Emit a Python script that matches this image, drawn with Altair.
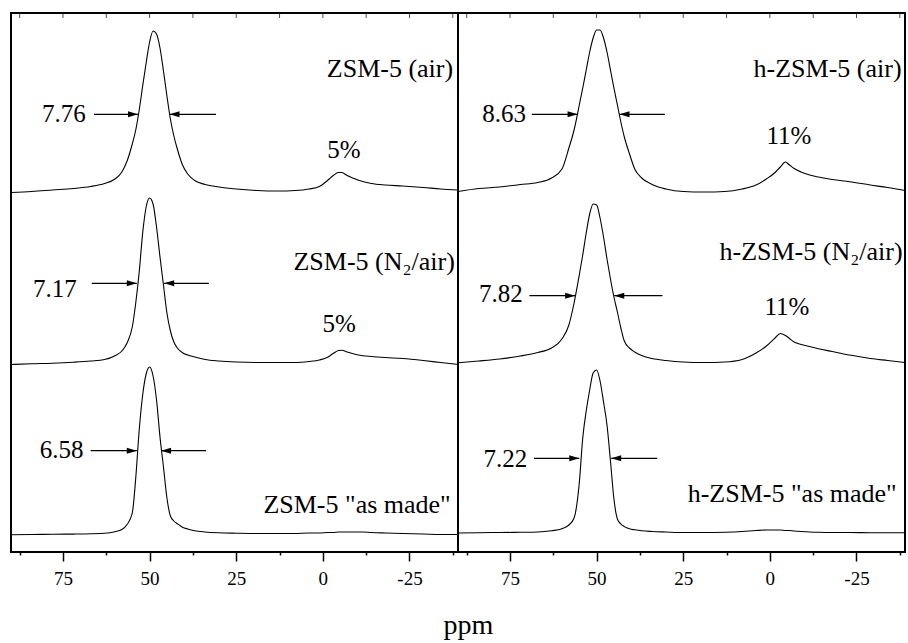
import altair as alt
import pandas as pd

# ---------------- data ----------------
ppm = [90, 84, 78, 72, 67, 63, 60, 58, 56.5, 55, 54, 53, 52, 51, 50, 49, 48, 47, 46, 45,
       44, 43, 42, 40.5, 39, 37, 34, 30, 25, 19, 13, 8, 4, 1, -1.5, -3, -4.5, -5.5, -7, -9,
       -11.5, -14, -18, -23, -29, -34, -39]

zsm5_air = [0.5, 1.5, 3, 4.5, 6.5, 9.5, 14, 21, 32, 49, 63, 83, 107, 130, 151, 162, 159, 145, 122, 97,
            74, 57, 44, 28, 19, 12.5, 8.5, 6, 4, 2.5, 2, 2.5, 4, 6.5, 13, 17.5, 20.5, 20.5, 17.5, 14.5,
            11.5, 9.5, 8, 7, 5.5, 4, 3]
zsm5_n2air = [0.5, 1.2, 1.8, 2.8, 4, 5.5, 9.3, 14, 22, 38, 62, 93, 132, 158, 167, 161, 138, 108, 80, 52,
              34, 23, 17, 12.3, 10, 8, 5.5, 4, 3, 2.5, 2.5, 2.5, 3.5, 5, 8, 11.5, 14.5, 14.8, 13, 11,
              9.3, 8.5, 7.5, 6.5, 4.5, 2.5, 0.5]
zsm5_asmade = [0.3, 0.5, 0.7, 0.9, 1.2, 1.7, 3.3, 5.5, 10.5, 22, 57, 105, 140, 161, 168, 159, 135, 98, 68, 37,
               19, 14, 11.3, 7.8, 6, 4.2, 3, 2.2, 1.8, 1.5, 1.5, 1.5, 2, 2, 2.5, 2.5, 3, 3, 3, 3,
               3, 2.5, 2, 1.5, 1, 0.5, 0.5]
hzsm5_air = [0.5, 3.5, 5, 7.5, 9.5, 14, 23, 44, 62, 87, 104, 122, 140, 154, 162, 162, 154, 140, 122, 104,
             87, 70, 55, 38, 23, 14, 7.5, 3, 0.5, 0, 0.5, 3, 7, 13, 19.5, 25, 30, 27.5, 23.5, 20,
             17, 15, 12.5, 10.3, 7, 4.5, 1.5]
hzsm5_n2air = [0.3, 2, 4, 7, 10.5, 15, 24, 38, 60, 88, 108, 130, 149, 159, 158, 145, 126, 104, 84, 66,
               51, 35, 22, 15, 11, 7.5, 4.5, 2.5, 1, 0.5, 1, 3.5, 10, 17, 25, 29.5, 27.5, 25, 21, 18.5,
               16.5, 14.3, 11.5, 8, 4.5, 2.5, 0.5]
hzsm5_asmade = [0, 0.3, 0.5, 0.7, 1, 2.3, 4.3, 8, 15, 50, 95, 122, 143, 160, 163, 152, 131, 108, 72, 34,
                14, 9, 6.4, 4.2, 3.2, 2.2, 1.5, 1, 0.5, 0.5, 0.8, 1.5, 2.5, 3, 3, 3, 2.5, 2.5, 2, 1.5,
                1, 0.7, 0.5, 0.5, 0.3, 0.3, 0.3]

left_names = ["ZSM-5 (air)", "ZSM-5 (N\u2082/air)", "ZSM-5 \"as made\""]
right_names = ["h-ZSM-5 (air)", "h-ZSM-5 (N\u2082/air)", "h-ZSM-5 \"as made\""]
left_spectra = [zsm5_air, zsm5_n2air, zsm5_asmade]
right_spectra = [hzsm5_air, hzsm5_n2air, hzsm5_asmade]
left_offsets = [359, 187, 17]
right_offsets = [360, 189, 19]

# FWHM annotations
left_fwhm = ["7.76", "7.17", "6.58"]
right_fwhm = ["8.63", "7.82", "7.22"]
left_fwhm_x = [68.4, 71.0, 69.1]
left_fwhm_y = [429.7, 254.7, 93.7]
right_fwhm_x = [70.4, 71.3, 70.0]
right_fwhm_y = [430.3, 250.3, 85.3]

left_arrow_y = [437.7, 268.7, 101.3]
left_arrow_l_start = [66.05, 66.7, 67.0]
left_arrow_l_tip = [53.35, 53.7, 53.7]
left_arrow_r_start = [30.84, 32.9, 33.7]
left_arrow_r_tip = [44.26, 45.8, 46.7]
right_arrow_y = [437.7, 256.3, 93.7]
right_arrow_l_start = [68.7, 69.4, 68.1]
right_arrow_l_tip = [55.5, 56.2, 55.0]
right_arrow_r_start = [30.3, 31.0, 32.5]
right_arrow_r_tip = [43.4, 44.9, 45.8]

# sample name positions
left_name_x = [-37.6, -38.1, -36.9]
left_name_y = [474.7, 282.0, 39.3]
right_name_x = [-38.0, -38.3, -36.6]
right_name_y = [475.3, 292.0, 50.3]

# percentage labels
left_pct = ["5%", "5%"]
left_pct_x = [-6.1, -4.7]
left_pct_y = [393.7, 220.3]
right_pct = ["11%", "11%"]
right_pct_x = [-5.5, -4.9]
right_pct_y = [408.0, 237.0]

ppm_ticks = [87.5, 75, 62.5, 50, 37.5, 25, 12.5, 0, -12.5, -25, -37.5]
ppm_max, ppm_min = 90, -39
y_top = 539

# ---------------- build tables ----------------
span = ppm_max - ppm_min  # 129 ppm per panel

spec_rows, arrow_rows, text_rows = [], [], []
for pi, (names, spectra, offs) in enumerate([(left_names, left_spectra, left_offsets),
                                              (right_names, right_spectra, right_offsets)]):
    for name, spec, off in zip(names, spectra, offs):
        for p, val in zip(ppm, spec):
            spec_rows.append({"panel": pi, "sample": name, "ppm": p, "v": off + val})

for pi, (ay, ls, lt, rs, rt) in enumerate([
        (left_arrow_y, left_arrow_l_start, left_arrow_l_tip, left_arrow_r_start, left_arrow_r_tip),
        (right_arrow_y, right_arrow_l_start, right_arrow_l_tip, right_arrow_r_start, right_arrow_r_tip)]):
    for y, a, b in zip(ay, ls, lt):
        arrow_rows.append({"panel": pi, "start": a, "tip": b, "v": y, "dir": "right"})
    for y, a, b in zip(ay, rs, rt):
        arrow_rows.append({"panel": pi, "start": a, "tip": b, "v": y, "dir": "left"})


def add_text(pi, labs, xs, ys, kind):
    for l, x, y in zip(labs, xs, ys):
        text_rows.append({"panel": pi, "label": l, "ppm": x, "v": y, "kind": kind})


add_text(0, left_fwhm, left_fwhm_x, left_fwhm_y, "num")
add_text(1, right_fwhm, right_fwhm_x, right_fwhm_y, "num")
add_text(0, left_names, left_name_x, left_name_y, "name")
add_text(1, right_names, right_name_x, right_name_y, "name")
add_text(0, left_pct, left_pct_x, left_pct_y, "pct")
add_text(1, right_pct, right_pct_x, right_pct_y, "pct")

spec_df = pd.DataFrame(spec_rows)
arrow_df = pd.DataFrame(arrow_rows)
text_df = pd.DataFrame(text_rows)
tick_df = pd.DataFrame([{"panel": pi, "ppm": t, "v": y_top} for pi in (0, 1) for t in ppm_ticks])
divider_df = pd.DataFrame({"u": [span]})

# ---------------- chart ----------------
FONT = "Liberation Serif"
U = f"datum.panel * {span} + {ppm_max} - datum.ppm"
PPM_OF = f"({ppm_max} - (datum.value % {span}))"
axis_vals = [pi * span + ppm_max - t for pi in (0, 1) for t in ppm_ticks]

x_scale = alt.Scale(domain=[0, 2 * span], nice=False, zero=False)
y_scale = alt.Scale(domain=[0, 539], nice=False, zero=False)
x_axis = alt.Axis(
    values=axis_vals, domain=False, grid=False,
    labelExpr=f"{PPM_OF} % 25 === 0 ? '' + {PPM_OF} : ''",
    tickSize={"condition": {"test": f"{PPM_OF} % 25 === 0", "value": 9}, "value": 3},
    tickColor="black", tickWidth=1.5, labelColor="black", labelFont=FONT,
    labelFontSize=19, labelPadding=8, labelFlush=False, labelOverlap=False,
    title="ppm", titleFont=FONT, titleFontSize=28, titleFontWeight="normal", titleColor="black",
    titleX=457, titleY=81, titleBaseline="alphabetic", titleAlign="center", titleAnchor="start")


def X(field):
    return alt.X(field, type="quantitative", scale=x_scale, axis=x_axis)


def Y(field):
    return alt.Y(field, type="quantitative", scale=y_scale, axis=None)


line = alt.Chart(spec_df).transform_calculate(u=U).mark_line(
    color="black", strokeWidth=1.1, interpolate="monotone").encode(
    x=X("u"), y=Y("v"), detail="sample:N")

arrows = alt.Chart(arrow_df).transform_calculate(
    u=f"datum.panel * {span} + {ppm_max} - datum.start",
    ut=f"datum.panel * {span} + {ppm_max} - datum.tip")
shafts = arrows.mark_rule(color="black", strokeWidth=1.3).encode(
    x=X("u"), x2="ut:Q", y=Y("v"))
heads_r = arrows.transform_filter("datum.dir === 'right'").mark_point(
    shape="M-1,-0.6L1,0L-1,0.6Z", size=100, filled=True, color="black",
    opacity=1, xOffset=-5).encode(x=X("ut"), y=Y("v"))
heads_l = arrows.transform_filter("datum.dir === 'left'").mark_point(
    shape="M1,-0.6L-1,0L1,0.6Z", size=100, filled=True, color="black",
    opacity=1, xOffset=5).encode(x=X("ut"), y=Y("v"))

texts = alt.Chart(text_df).transform_calculate(u=U)
text_num = texts.transform_filter("datum.kind === 'num'").mark_text(
    font=FONT, fontSize=25, color="black", align="right", baseline="alphabetic").encode(
    x=X("u"), y=Y("v"), text="label:N")
text_name = texts.transform_filter("datum.kind === 'name'").mark_text(
    font=FONT, fontSize=26, color="black", align="right", baseline="alphabetic").encode(
    x=X("u"), y=Y("v"), text="label:N")
text_pct = texts.transform_filter("datum.kind === 'pct'").mark_text(
    font=FONT, fontSize=25, color="black", align="center", baseline="alphabetic").encode(
    x=X("u"), y=Y("v"), text="label:N")

top_ticks = alt.Chart(tick_df).transform_calculate(u=U).mark_tick(
    orient="vertical", color="black", thickness=1, size=5, yOffset=2.5).encode(
    x=X("u"), y=Y("v"))

divider = alt.Chart(divider_df).mark_rule(color="black", strokeWidth=2).encode(x=X("u"))

chart = alt.layer(line, shafts, heads_r, heads_l, text_num, text_name, text_pct, top_ticks, divider).properties(
    width=894, height=539,
    autosize=alt.AutoSizeParams(type="none"),
    padding={"left": 11, "top": 13, "right": 3, "bottom": 91},
    background="white",
).configure_view(stroke="black", strokeWidth=2)

chart.save("out.html", embed_options={"renderer": "svg", "actions": False})
